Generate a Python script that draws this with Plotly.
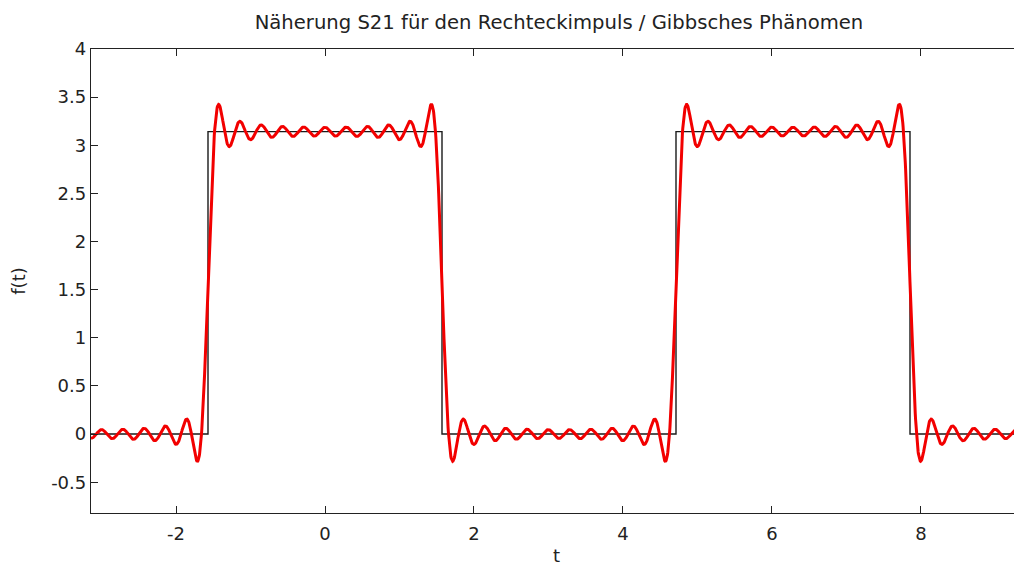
import numpy as np
import plotly.graph_objects as go

# ---- data ----
pulse_height = np.pi          # height of the rectangular pulse
pulse_half_width = np.pi / 2  # half width of the pulse
n_harmonics = 21              # partial sum S21
harmonics = list(range(1, n_harmonics + 1))
t_start, t_end = -np.pi, 3 * np.pi

# rectangular pulse corners (exact square wave)
rect_t = [-np.pi, -np.pi/2, -np.pi/2, np.pi/2, np.pi/2, 3*np.pi/2, 3*np.pi/2, 5*np.pi/2, 5*np.pi/2, 3*np.pi]
rect_f = [0, 0, np.pi, np.pi, 0, 0, np.pi, np.pi, 0, 0]

x_ticks = [-2, 0, 2, 4, 6, 8]
x_tick_text = ["-2", "0", "2", "4", "6", "8"]
y_ticks = [-0.5, 0, 0.5, 1, 1.5, 2, 2.5, 3, 3.5, 4]
y_tick_text = ["-0.5", "0", "0.5", "1", "1.5", "2", "2.5", "3", "3.5", "4"]

# Fourier partial sum S21 of the pulse
a0 = pulse_height * pulse_half_width / np.pi
coeffs = [2 * pulse_height / np.pi * np.sin(k * pulse_half_width) / k for k in harmonics]
t = np.linspace(t_start, t_end, 3000)
s21 = a0 + sum(c * np.cos(k * t) for k, c in zip(harmonics, coeffs))

fig = go.Figure()
fig.add_trace(go.Scatter(x=rect_t, y=rect_f, mode="lines",
                         line=dict(color="#1a1a1a", width=1.4), showlegend=False))
fig.add_trace(go.Scatter(x=t, y=s21, mode="lines",
                         line=dict(color="#f20000", width=3), showlegend=False))
# helper trace for right-side ticks
fig.add_trace(go.Scatter(x=[0], y=[0], yaxis="y2", mode="markers",
                         marker=dict(opacity=0), showlegend=False, hoverinfo="skip"))

# page has an 8px body margin -> figure coordinates are offset by 8px
OFF = 8
W, H = 1022 - OFF, 574 - 2 * OFF
left, top, bottom_px = 91 - OFF, 49 - OFF, 513 - OFF
scale = (t_end - t_start) / 936.0
x_right = t_start + (W - left) * scale
y_range = [-0.82, 4]

font = "DejaVu Sans, sans-serif"
fc = "#222"
fig.update_layout(
    width=W, height=H,
    margin=dict(l=left, r=0, t=top, b=H - bottom_px),
    paper_bgcolor="white", plot_bgcolor="white",
    title=dict(text="Näherung S21 für den Rechteckimpuls / Gibbsches Phänomen",
               x=((91 + 1027) / 2 - OFF) / W, xanchor="center", y=1 - (22 - OFF) / H,
               yanchor="middle",
               font=dict(family=font, size=19.6, color=fc), automargin=False),
    xaxis=dict(range=[t_start, x_right], tickvals=x_ticks, ticktext=x_tick_text,
               ticks="inside", ticklen=7, automargin=False, ticklabelstandoff=4,
               tickcolor=fc, showline=True, linecolor=fc, linewidth=1.3,
               mirror="ticks", showgrid=False, zeroline=False,
               tickfont=dict(family=font, size=18, color=fc),
               title=dict(text="t", font=dict(family=font, size=18, color=fc), standoff=15)),
    yaxis=dict(range=y_range, tickvals=y_ticks, ticktext=y_tick_text, ticks="inside", ticklen=7,
               tickcolor=fc, showline=True, linecolor=fc, linewidth=1.3, automargin=False,
               showgrid=False, zeroline=False,
               tickfont=dict(family=font, size=18, color=fc),
               title=dict(text="f(t)", font=dict(family=font, size=18, color=fc), standoff=21)),
    yaxis2=dict(range=y_range, tickvals=y_ticks, ticks="inside", ticklen=7, tickcolor=fc,
                overlaying="y", side="right", showticklabels=False, showline=False,
                automargin=False, showgrid=False, zeroline=False),
)
fig.write_html("out.html")
